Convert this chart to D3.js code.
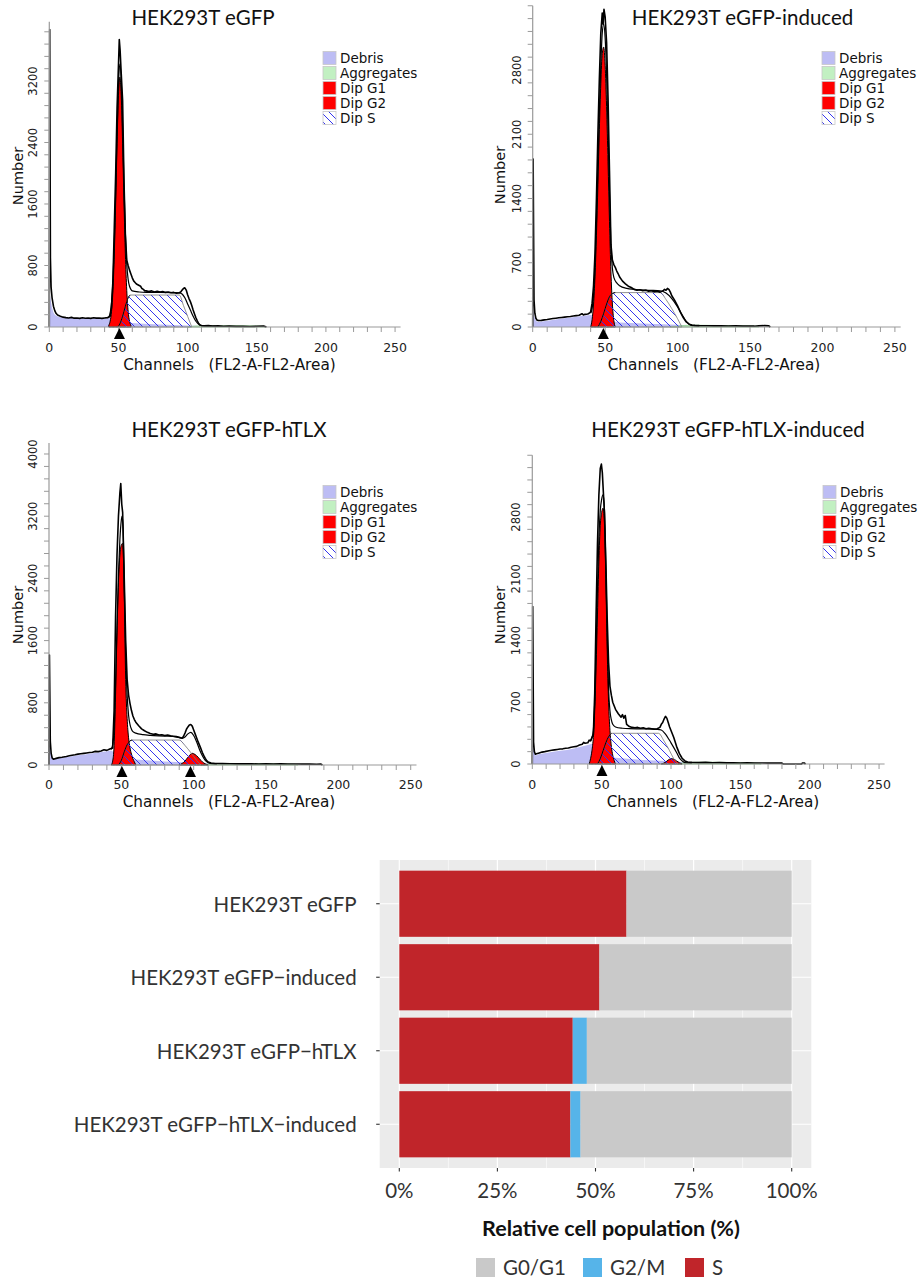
<!DOCTYPE html>
<html><head><meta charset="utf-8">
<script src="https://cdn.jsdelivr.net/npm/d3@7"></script>
<style>
body{margin:0;background:#fff;}
svg{display:block;}
text{white-space:pre;}
</style></head><body>
<svg id="chart" width="920" height="1278"></svg>
<script>
// ---------- Histogram data (channel, count) ----------
const histTitles = ["HEK293T eGFP","HEK293T eGFP-induced","HEK293T eGFP-hTLX","HEK293T eGFP-hTLX-induced"];
const legendLabels = ["Debris","Aggregates","Dip G1","Dip G2","Dip S"];
const histYMax = [3970, 3500, 4140, 3500];
const histYMajor = [800, 700, 800, 700];
const histYLabelMax = [3200, 2800, 4000, 2800];
const histXTicks = [0, 50, 100, 150, 200, 250];
const histG1Peak = [50.7, 48.8, 50.4, 50.2];
const histG2Peak = [null, null, 97.8, null];

const egfpRaw = [[0,0],[0.3,3870],[0.8,900],[1.3,520],[2,380],[3,270],[4,210],[5,175],[6,155],[8,140],[10,128],[12,122],[14,118],[16,125],[18,115],[20,118],[22,112],[24,120],[26,114],[28,118],[30,112],[32,120],[34,115],[36,118],[38,112],[40,118],[42,122],[43,128],[44,140],[45,260],[46,600],[47,1300],[48,2000],[49,2850],[50,3400],[50.6,3740],[51.2,3600],[52,3300],[53,2950],[54,1900],[55,1200],[56,870],[57,800],[58,740],[59,690],[60,640],[61,600],[62,580],[63,560],[64,550],[65,540],[66,530],[67,500],[68,490],[69,470],[70,470],[72,460],[74,470],[76,455],[78,465],[80,455],[82,460],[84,450],[86,455],[88,445],[90,450],[92,440],[94,445],[95,455],[96,480],[97,500],[98,510],[99,480],[100,420],[101,370],[102,330],[103,280],[104,220],[105,170],[106,120],[107,80],[108,45],[109,25],[110,18],[112,15],[115,18],[118,12],[122,15],[126,10],[130,12],[135,8],[140,10],[145,7],[150,9],[155,12],[157,0]];
const egfpFit = [[42,120],[43,130],[44,180],[45,320],[46,600],[47,1080],[48,1750],[49,2520],[50,3150],[51,3420],[52,3200],[53,2600],[54,1850],[55,1230],[56,820],[57,620],[58,530],[59,490],[60,470],[65,455],[70,450],[80,450],[90,448],[94,445],[96,430],[98,380],[100,300],[102,220],[104,140],[106,75],[108,35],[110,18],[114,12],[120,10]];
const egfpDebris = [[0,0],[0,480],[1,350],[2,250],[3,190],[4,160],[5,145],[7,130],[10,122],[15,118],[20,116],[30,115],[40,115],[44,115],[47,100],[50,80],[55,60],[65,45],[80,32],[95,22],[105,15],[120,8],[140,3],[155,0]];
const egfpAgg = [[100,0],[104,10],[110,16],[120,17],[130,16],[140,15],[150,13],[155,10],[156,0]];
const egfpG1 = [[43,23],[44,75],[45,205],[46,475],[47,950],[48,1625],[49,2390],[50,3010],[51,3250],[52,3010],[53,2390],[54,1625],[55,950],[56,475],[57,205],[58,75],[59,23]];
const egfpG2 = [];
const egfpS = [[49.5,0],[51,40],[53,140],[55,270],[57,380],[58.5,416],[94,416],[97,280],[100,140],[103,0]];

const egfpIndRaw = [[0,0],[0.3,1830],[0.9,300],[1.5,150],[2.2,95],[3,75],[4,70],[6,72],[8,78],[10,82],[12,88],[14,92],[16,96],[18,100],[20,104],[22,108],[24,112],[26,115],[28,120],[30,124],[32,128],[34,145],[35,132],[36,138],[38,142],[39,150],[40,165],[41,260],[42,450],[43,800],[44,1400],[45,2100],[46,2700],[47,3200],[48,3420],[48.6,3300],[49.2,3460],[50,3380],[51,3100],[52,2500],[53,1700],[54,900],[55,730],[56,680],[57,650],[58,610],[59,580],[60,545],[62,500],[64,470],[66,445],[68,430],[70,410],[72,400],[74,405],[76,395],[78,400],[80,390],[82,395],[84,385],[86,390],[88,380],[90,395],[91,410],[92,400],[93,420],[94,410],[95,380],[96,340],[98,290],[100,230],[102,160],[104,100],[106,55],[108,30],[110,22],[112,18],[115,15],[120,14],[125,12],[130,13],[135,11],[140,12],[145,10],[150,11],[153,9],[156,12],[160,15],[163,12],[164,0]];
const egfpIndFit = [[40,150],[41,200],[42,350],[43,650],[44,1150],[45,1750],[46,2350],[47,2850],[48,3200],[49,3300],[50,3150],[51,2750],[52,2150],[53,1450],[54,900],[55,640],[56,540],[58,480],[60,450],[65,420],[70,410],[80,400],[88,395],[92,370],[96,310],[100,220],[104,110],[106,60],[108,30],[110,15],[115,10]];
const egfpIndDebris = [[0,0],[0,200],[1,120],[2,75],[3,58],[5,58],[10,68],[15,80],[20,92],[25,102],[30,112],[35,122],[40,130],[43,125],[46,100],[50,75],[60,50],[80,35],[100,24],[110,15],[130,6],[150,0]];
const egfpIndAgg = [[95,0],[100,10],[105,17],[110,20],[120,18],[130,16],[140,14],[150,11],[155,8],[156,0]];
const egfpIndG1 = [[40,0],[41,80],[42,250],[43,550],[44,1000],[45,1550],[46,2150],[47,2650],[48,2980],[49,3050],[50,2850],[51,2400],[52,1800],[53,1150],[54,600],[55,250],[56,70],[57,0]];
const egfpIndG2 = [];
const egfpIndS = [[45,0],[47,60],[49,150],[51,250],[53,330],[55,365],[57,375],[88,375],[92,300],[96,200],[100,90],[103,0]];

const htlxRaw = [[0,0],[0.3,1415],[0.9,300],[1.5,150],[2.2,90],[3,75],[5,85],[7,95],[9,100],[12,110],[14,118],[16,125],[18,132],[20,140],[22,145],[24,150],[26,155],[28,160],[30,165],[32,175],[34,172],[36,180],[38,195],[40,188],[42,205],[44,220],[45,700],[46,1900],[47,2700],[48,3200],[49,3500],[49.6,3620],[50.3,3350],[50.9,3250],[52,2400],[53,1600],[54,1100],[55,900],[56,790],[57,700],[58,630],[59,585],[60,550],[62,505],[64,465],[66,440],[68,420],[70,405],[72,395],[74,400],[76,385],[78,390],[80,380],[82,385],[84,375],[86,370],[88,365],[90,355],[92,345],[93,370],[94,410],[95,460],[96,490],[97,515],[98,520],[99,500],[100,450],[101,400],[102,350],[103,300],[104,255],[105,210],[106,160],[107,120],[108,85],[109,55],[110,40],[112,25],[115,20],[120,18],[125,16],[130,15],[135,14],[140,15],[145,13],[150,14],[155,12],[160,14],[165,12],[170,13],[175,11],[180,12],[185,10],[188,12],[189,0]];
const htlxFit = [[43,200],[44,260],[45,450],[46,1050],[47,1800],[48,2450],[49,2900],[50,3150],[50.6,3200],[51.3,3000],[52,2350],[53,1400],[54,900],[55,640],[56,520],[57,460],[58,430],[60,410],[65,390],[70,380],[80,372],[88,362],[92,345],[94,360],[96,400],[98,420],[100,380],[102,300],[104,200],[106,120],[108,60],[110,30],[112,18],[116,12]];
const htlxDebris = [[0,0],[0,300],[1,200],[2,110],[3,80],[5,80],[10,95],[15,110],[20,125],[25,135],[30,150],[35,165],[40,178],[43,185],[46,150],[50,100],[60,70],[80,45],[100,30],[115,15],[140,5],[160,0]];
const htlxAgg = [[105,0],[110,12],[115,18],[125,20],[140,18],[155,16],[165,12],[170,8],[172,0]];
const htlxG1 = [[43,0],[44,50],[45,250],[46,900],[47,1700],[48,2350],[49,2700],[50,2830],[50.8,2850],[51.5,2650],[52,2200],[53,1100],[54,600],[55,350],[56,220],[57,140],[58,80],[59,40],[60,0]];
const htlxG2 = [[90,0],[92,20],[94,50],[96,100],[98,140],[99,150],[100,145],[102,120],[104,80],[106,40],[108,15],[110,0]];
const htlxS = [[48,0],[50,60],[52,170],[54,260],[56,310],[57.5,321],[90,321],[94,250],[98,160],[102,60],[105,0]];

const htlxIndRaw = [[0,0],[0.3,1784],[0.9,250],[1.5,140],[2.2,110],[3,115],[5,125],[7,135],[9,140],[12,150],[14,155],[16,160],[18,165],[20,170],[22,172],[24,178],[26,182],[28,190],[30,195],[32,200],[34,215],[36,225],[37,245],[38,235],[40,240],[41,270],[42,262],[43,300],[44,330],[45,800],[46,1700],[47,2500],[48,3050],[49,3350],[49.8,3400],[50.5,3300],[51,3150],[52,2850],[53,2300],[54,1650],[55,1150],[56,880],[57,780],[58,700],[59,660],[60,620],[62,570],[64,530],[65,560],[66,520],[67,550],[68,450],[70,425],[72,415],[74,410],[76,415],[78,405],[80,410],[82,400],[84,405],[86,400],[88,395],[90,400],[92,415],[93,450],[94,470],[95,510],[96,540],[97,520],[98,470],[99,420],[100,380],[102,300],[104,200],[106,120],[108,65],[110,35],[112,22],[115,18],[120,16],[125,18],[130,15],[135,16],[140,13],[145,14],[150,12],[155,13],[160,11],[165,12],[170,10],[175,11],[180,10],[181,0],[194,0],[195,12],[196,12],[197,0]];
const htlxIndFit = [[42,260],[43,300],[44,380],[45,700],[46,1300],[47,2000],[48,2550],[49,2870],[50,3000],[51,3050],[52,2900],[53,2250],[54,1450],[55,850],[56,600],[57,500],[58,450],[60,420],[65,405],[70,400],[80,398],[90,392],[93,385],[96,340],[100,240],[104,130],[106,70],[108,35],[110,15],[115,10]];
const htlxIndDebris = [[0,0],[0,250],[1,160],[2,100],[3,100],[5,112],[10,125],[15,140],[20,150],[25,160],[30,175],[35,195],[40,215],[43,230],[46,170],[50,110],[60,70],[80,45],[100,30],[115,15],[140,5],[160,0]];
const htlxIndAgg = [[105,0],[110,15],[120,20],[130,20],[140,18],[150,15],[160,12],[165,0]];
const htlxIndG1 = [[41,0],[42,60],[43,150],[44,300],[45,600],[46,1100],[47,1700],[48,2300],[49,2700],[50,2850],[51,2900],[52,2750],[53,2100],[54,1300],[55,700],[56,380],[57,200],[58,100],[59,40],[60,0]];
const htlxIndG2 = [[93,0],[96,20],[98,45],[100,60],[102,55],[104,35],[106,15],[108,0]];
const htlxIndS = [[47,0],[49,60],[51,150],[53,240],[55,310],[57,348],[91,348],[95,260],[99,150],[102,60],[105,0]];

// ---------- Bar chart data ----------
const barCategories = ["HEK293T eGFP","HEK293T eGFP\u2212induced","HEK293T eGFP\u2212hTLX","HEK293T eGFP\u2212hTLX\u2212induced"];
const barSeries = ["G0/G1","G2/M","S"];
const pctS = [57.9, 51.0, 44.2, 43.6];
const pctG2M = [0, 0, 3.6, 2.6];
const pctG0G1 = [42.1, 49.0, 52.2, 53.8];
const barXTicks = [0, 25, 50, 75, 100];

// ---------- Drawing ----------
const svg = d3.select("#chart");
const defs = svg.append("defs");
const pat = defs.append("pattern").attr("id","hatch").attr("patternUnits","userSpaceOnUse")
  .attr("width",8).attr("height",8);
pat.append("path").attr("d","M-2,-2 L10,10 M-2,6 L2,10 M6,-2 L10,2")
  .attr("stroke","#3434ee").attr("stroke-width",1).attr("fill","none");

const histFont = "'DejaVu Sans', Verdana, sans-serif";
const titleFont = "Lato, 'Open Sans', sans-serif";
const C = {debris:"#bdbdf4", agg:"#c2f0c2", red:"#ff0000"};

const panels = [
  {raw:egfpRaw, fit:egfpFit, debris:egfpDebris, agg:egfpAgg, g1:egfpG1, g2:egfpG2, s:egfpS,
   L:{x0:49.3, x1:400.6, y0:327, y1:21.8, tX:203, tY:25, xlX:229.5, xlY:370, tkY:352, nX:18, nY:176, lgX:323, lgY:58}},
  {raw:egfpIndRaw, fit:egfpIndFit, debris:egfpIndDebris, agg:egfpIndAgg, g1:egfpIndG1, g2:egfpIndG2, s:egfpIndS,
   L:{x0:532.7, x1:900.7, y0:327, y1:5.75, tX:742.5, tY:25, xlX:714, xlY:370, tkY:352, nX:500, nY:175, lgX:822, lgY:58}},
  {raw:htlxRaw, fit:htlxFit, debris:htlxDebris, agg:htlxAgg, g1:htlxG1, g2:htlxG2, s:htlxS,
   L:{x0:49, x1:416.5, y0:765, y1:443.1, tX:229, tY:437, xlX:229, xlY:807, tkY:789, nX:18, nY:615, lgX:323, lgY:492}},
  {raw:htlxIndRaw, fit:htlxIndFit, debris:htlxIndDebris, agg:htlxIndAgg, g1:htlxIndG1, g2:htlxIndG2, s:htlxIndS,
   L:{x0:532.3, x1:884.6, y0:764, y1:455.25, tX:728, tY:437, xlX:713, xlY:807, tkY:789, nX:500, nY:615, lgX:823, lgY:492}}
];

panels.forEach((p, i) => {
  const L = p.L;
  const g = svg.append("g");
  const x = d3.scaleLinear().domain([0, 254]).range([L.x0, L.x1]);
  const y = d3.scaleLinear().domain([0, histYMax[i]]).range([L.y0, L.y1]);
  const areaLin = d3.area().x(d => x(d[0])).y0(y(0)).y1(d => y(d[1]));
  const areaSm = d3.area().x(d => x(d[0])).y0(y(0)).y1(d => y(d[1])).curve(d3.curveMonotoneX);
  const lineLin = d3.line().x(d => x(d[0])).y(d => y(d[1]));
  const lineSm = d3.line().x(d => x(d[0])).y(d => y(d[1])).curve(d3.curveMonotoneX);

  // title
  g.append("text").attr("x", L.tX).attr("y", L.tY).attr("text-anchor","middle")
    .attr("font-family", titleFont).attr("font-size", 20.5).attr("fill","#111").text(histTitles[i]);

  // components
  g.append("path").datum(p.debris).attr("d", areaLin).attr("fill", C.debris);
  g.append("path").datum(p.agg).attr("d", areaSm).attr("fill", C.agg).attr("stroke","#8fd68f").attr("stroke-width",0.8);
  if (p.g1.length) g.append("path").datum(p.g1).attr("d", areaSm).attr("fill", C.red).attr("stroke","#000").attr("stroke-width",1);
  if (p.g2.length) g.append("path").datum(p.g2).attr("d", areaSm).attr("fill", C.red).attr("stroke","#000").attr("stroke-width",1);
  g.append("path").datum(p.s).attr("d", areaSm).attr("fill","url(#hatch)").attr("stroke","#777").attr("stroke-width",0.8);
  g.append("path").datum(p.s.filter(d => d[0] < 60))
    .attr("d", lineSm).attr("fill","none").attr("stroke","#000").attr("stroke-width",1);

  // data lines
  g.append("path").datum(p.fit).attr("d", lineSm).attr("fill","none").attr("stroke","#000").attr("stroke-width",1.2);
  g.append("path").datum(p.raw).attr("d", lineLin).attr("fill","none").attr("stroke","#000").attr("stroke-width",1.6).attr("stroke-linejoin","round");

  // axes
  const axC = "#9a9a9a";
  g.append("line").attr("x1", x(0)).attr("x2", x(254)).attr("y1", y(0)).attr("y2", y(0)).attr("stroke", axC).attr("stroke-width",1.2);
  g.append("line").attr("x1", x(0)).attr("x2", x(0)).attr("y1", y(0)).attr("y2", y(histYMax[i])).attr("stroke", axC).attr("stroke-width",1.2);
  g.selectAll(".xt").data(d3.range(0, 251, 10)).join("line")
    .attr("x1", d => x(d)).attr("x2", d => x(d)).attr("y1", y(0)).attr("y2", y(0) + 5)
    .attr("stroke", axC).attr("stroke-width", 1);
  g.selectAll(".xl").data(histXTicks).join("text")
    .attr("x", d => x(d)).attr("y", L.tkY).attr("text-anchor","middle")
    .attr("font-family", histFont).attr("font-size", 12.5).attr("fill","#222").text(d => d);
  const yStep = histYMajor[i] / 5;
  g.selectAll(".yt").data(d3.range(0, histYMax[i] + 1, yStep)).join("line")
    .attr("x1", x(0) - 5).attr("x2", x(0)).attr("y1", d => y(d)).attr("y2", d => y(d))
    .attr("stroke", axC).attr("stroke-width", 1);
  g.selectAll(".yl").data(d3.range(0, histYLabelMax[i] + 1, histYMajor[i])).join("text")
    .attr("transform", d => `translate(${x(0) - 16},${y(d)}) rotate(-90)`)
    .attr("text-anchor","middle").attr("dominant-baseline","central")
    .attr("font-family", histFont).attr("font-size", 11.5).attr("fill","#222").text(d => d);
  g.append("text").attr("transform", `translate(${L.nX},${L.nY}) rotate(-90)`)
    .attr("text-anchor","middle").attr("dominant-baseline","central")
    .attr("font-family", histFont).attr("font-size", 14.5).attr("fill","#111").text("Number");
  g.append("text").attr("x", L.xlX).attr("y", L.xlY).attr("text-anchor","middle")
    .attr("font-family", histFont).attr("font-size", 15.3).attr("fill","#111")
    .text("Channels   (FL2-A-FL2-Area)");

  // peak markers
  const marks = [histG1Peak[i], histG2Peak[i]].filter(v => v != null);
  g.selectAll(".mk").data(marks).join("path")
    .attr("d", d => `M${x(d)},${y(0) + 1} L${x(d) + 5.5},${y(0) + 12} L${x(d) - 5.5},${y(0) + 12} Z`)
    .attr("fill","#000");

  // legend
  const lg = g.append("g").attr("transform", `translate(${L.lgX},${L.lgY})`);
  const fills = [C.debris, C.agg, C.red, C.red, "url(#hatch)"];
  legendLabels.forEach((lab, k) => {
    const cy = k * 15;
    lg.append("rect").attr("x", 0).attr("y", cy - 6.5).attr("width", 13).attr("height", 13)
      .attr("fill", fills[k]).attr("stroke", "#c8c8c8").attr("stroke-width", 0.8);
    lg.append("text").attr("x", 17).attr("y", cy).attr("dominant-baseline","central")
      .attr("font-family", histFont).attr("font-size", 13.5).attr("fill","#111").text(lab);
  });
});

// ---------- Bar chart ----------
const barFont = "Lato, 'Open Sans', sans-serif";
const bx = d3.scaleLinear().domain([0, 100]).range([399.3, 791.7]);
const by = d3.scaleBand().domain(barCategories).range([860, 1168]).paddingInner(0.1).paddingOuter(0.145);
const bcol = {"G0/G1":"#c9c9c9", "G2/M":"#56b4e9", "S":"#c0252a"};
const bg = svg.append("g");
bg.append("rect").attr("x", bx(-5)).attr("y", 860).attr("width", bx(105) - bx(-5)).attr("height", 308).attr("fill","#ebebeb");
bg.selectAll(".mn").data([12.5, 37.5, 62.5, 87.5]).join("line")
  .attr("x1", d => bx(d)).attr("x2", d => bx(d)).attr("y1", 860).attr("y2", 1168)
  .attr("stroke","#fff").attr("stroke-width", 0.6);
bg.selectAll(".mj").data(barXTicks).join("line")
  .attr("x1", d => bx(d)).attr("x2", d => bx(d)).attr("y1", 860).attr("y2", 1168)
  .attr("stroke","#fff").attr("stroke-width", 1.2);
bg.selectAll(".hj").data(barCategories).join("line")
  .attr("x1", bx(-5)).attr("x2", bx(105)).attr("y1", d => by(d) + by.bandwidth()/2).attr("y2", d => by(d) + by.bandwidth()/2)
  .attr("stroke","#fff").attr("stroke-width", 1.2);

const rows = barCategories.map((c, i) => ({cat: c, "S": pctS[i], "G2/M": pctG2M[i], "G0/G1": pctG0G1[i]}));
const stack = d3.stack().keys(["S","G2/M","G0/G1"])(rows);
stack.forEach(layer => {
  bg.selectAll(null).data(layer).join("rect")
    .attr("x", d => bx(d[0])).attr("width", d => Math.max(0, bx(d[1]) - bx(d[0])))
    .attr("y", d => by(d.data.cat)).attr("height", by.bandwidth())
    .attr("fill", bcol[layer.key]);
});

// axis ticks and labels
bg.selectAll(".ytk").data(barCategories).join("line")
  .attr("x1", bx(-5) - 3.5).attr("x2", bx(-5)).attr("y1", d => by(d) + by.bandwidth()/2).attr("y2", d => by(d) + by.bandwidth()/2)
  .attr("stroke","#333").attr("stroke-width", 1.1);
bg.selectAll(".ylb").data(barCategories).join("text")
  .attr("x", bx(-5) - 23).attr("y", d => by(d) + by.bandwidth()/2).attr("dominant-baseline","central")
  .attr("text-anchor","end").attr("font-family", barFont).attr("font-size", 20.5).attr("fill","#333").text(d => d);
bg.selectAll(".xtk").data(barXTicks).join("line")
  .attr("x1", d => bx(d)).attr("x2", d => bx(d)).attr("y1", 1168).attr("y2", 1171.5)
  .attr("stroke","#333").attr("stroke-width", 1.1);
bg.selectAll(".xlb").data(barXTicks).join("text")
  .attr("x", d => bx(d)).attr("y", 1198).attr("text-anchor","middle")
  .attr("font-family", barFont).attr("font-size", 20.5).attr("fill","#333").text(d => d + "%");
bg.append("text").attr("x", 611).attr("y", 1236).attr("text-anchor","middle")
  .attr("font-family", barFont).attr("font-size", 21.5).attr("font-weight","bold").attr("fill","#111")
  .text("Relative cell population (%)");

// legend
const legX = [476, 583, 685];
barSeries.forEach((s, k) => {
  bg.append("rect").attr("x", legX[k]).attr("y", 1258).attr("width", 19).attr("height", 19).attr("fill", bcol[s]);
  bg.append("text").attr("x", legX[k] + 27).attr("y", 1275).attr("font-family", barFont).attr("font-size", 20.5)
    .attr("fill","#333").text(s);
});
</script>
</body></html>
